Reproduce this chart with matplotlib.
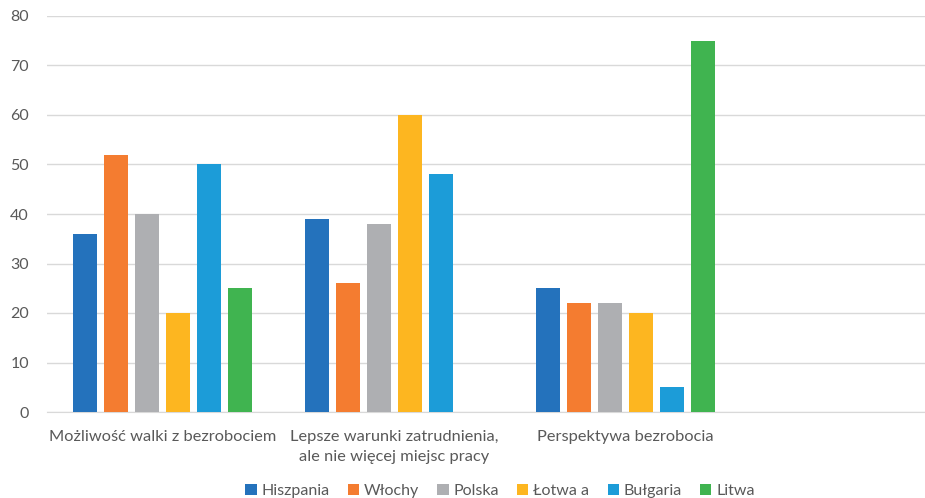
import numpy as np
import matplotlib.pyplot as plt

categories = ['Możliwość walki z bezrobociem',
              'Lepsze warunki zatrudnienia,\nale nie więcej miejsc pracy',
              'Perspektywa bezrobocia', '']
countries = ['Hiszpania', 'Włochy', 'Polska', 'Łotwa a', 'Bułgaria', 'Litwa']
hiszpania = [36, 39, 25, np.nan]
wlochy = [52, 26, 22, np.nan]
polska = [40, 38, 22, np.nan]
lotwa = [20, 60, 20, np.nan]
bulgaria = [50, 48, 5, np.nan]
litwa = [25, np.nan, 75, np.nan]
series = [hiszpania, wlochy, polska, lotwa, bulgaria, litwa]
colors = ['#2472BC', '#F47C30', '#AEAFB2', '#FDB620', '#1C9CD8', '#40B450']

plt.rcParams['font.family'] = ['Lato', 'DejaVu Sans']
txt = '#595959'

fig = plt.figure(figsize=(9.25, 4.98), dpi=100)
ax = fig.add_axes([47/925, 86/498, 926/925, 396/498])

x = np.arange(len(categories))
step = 0.134
width = 0.1037
for i, (vals, c, name) in enumerate(zip(series, colors, countries)):
    ax.bar(x + (i - 2.5)*step, vals, width, color=c, label=name, zorder=3)

ax.set_xlim(-0.5, 3.5)
ax.set_ylim(0, 80)
ax.set_yticks(range(0, 81, 10))
ax.set_xticks(x)
ax.set_xticklabels(categories, fontsize=11.8, color=txt, linespacing=1.5)
ax.tick_params(axis='x', length=0, pad=13)
ax.tick_params(axis='y', length=0, pad=13, labelsize=11.5, labelcolor=txt)
ax.grid(axis='y', color='#D9D9D9', linewidth=1, zorder=0)
for s in ['top', 'right', 'left']:
    ax.spines[s].set_visible(False)
ax.spines['bottom'].set_color('#D9D9D9')

fig.legend(loc='center', bbox_to_anchor=(500/925, 7/498), ncol=6,
           frameon=False, fontsize=11.5, labelcolor=txt,
           handlelength=0.7, handleheight=0.7, handletextpad=0.3,
           columnspacing=1.15)

plt.savefig('out.png', dpi=100)
